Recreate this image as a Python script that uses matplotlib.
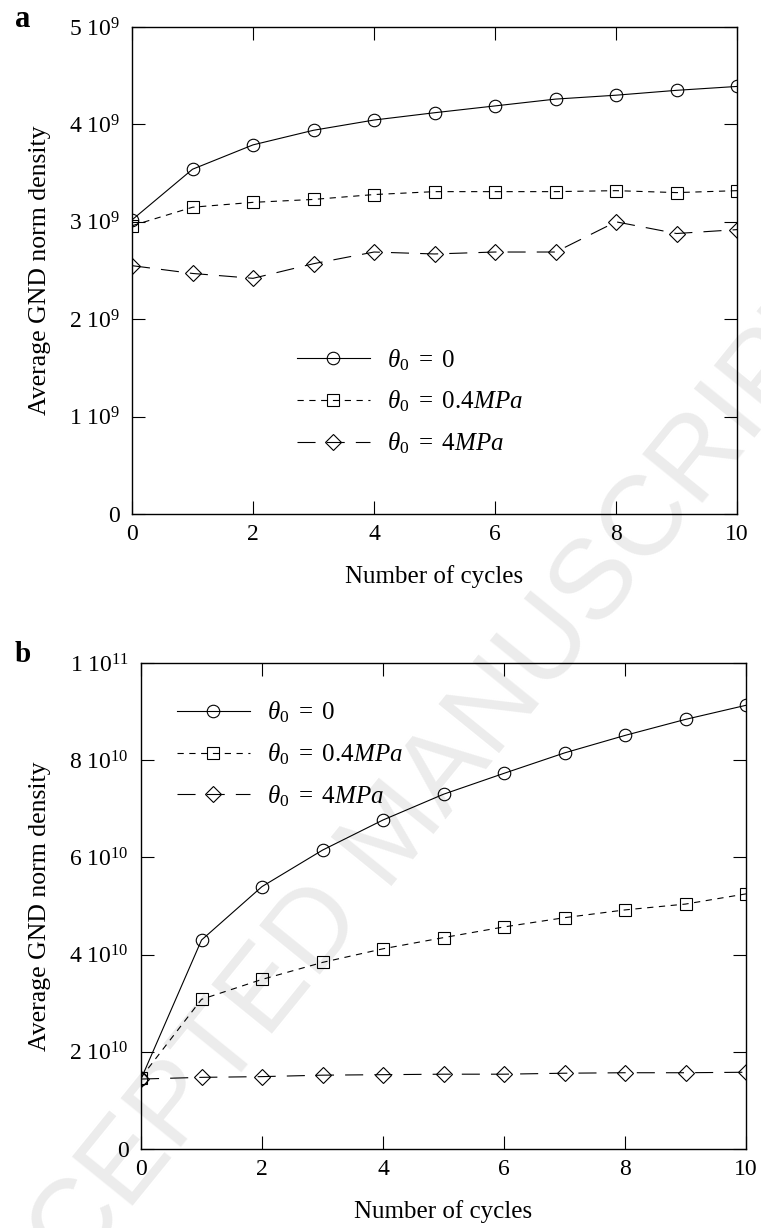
import matplotlib
matplotlib.use('Agg')
import matplotlib.pyplot as plt

plt.rcParams['font.family'] = ['Liberation Serif', 'DejaVu Serif']
plt.rcParams['mathtext.fontset'] = 'custom'
plt.rcParams['mathtext.rm'] = 'Liberation Serif'
plt.rcParams['mathtext.it'] = 'Liberation Serif:italic'
plt.rcParams['mathtext.bf'] = 'Liberation Serif:bold'
plt.rcParams['lines.scale_dashes'] = False

# cycles
cycles = [0, 1, 2, 3, 4, 5, 6, 7, 8, 9, 10]

# panel a, GND density (x 1e9)
a_theta0 = [3.02, 3.54, 3.79, 3.94, 4.045, 4.12, 4.19, 4.26, 4.30, 4.35, 4.39]
a_theta04 = [2.96, 3.15, 3.20, 3.23, 3.28, 3.31, 3.31, 3.31, 3.32, 3.30, 3.32]
a_theta4 = [2.55, 2.47, 2.42, 2.57, 2.69, 2.67, 2.69, 2.69, 3.00, 2.88, 2.92]

# panel b, GND density (x 1e10)
b_theta0 = [1.44, 4.30, 5.40, 6.15, 6.77, 7.30, 7.73, 8.15, 8.51, 8.84, 9.13]
b_theta04 = [1.47, 3.08, 3.49, 3.84, 4.12, 4.35, 4.57, 4.76, 4.92, 5.04, 5.25]
b_theta4 = [1.44, 1.475, 1.49, 1.52, 1.53, 1.54, 1.54, 1.56, 1.57, 1.57, 1.58]

labels = [r'$\theta_0\ =\ 0$', r'$\theta_0\ =\ 0.4MPa$', r'$\theta_0\ =\ 4MPa$']

a_yticks = [0, 1e9, 2e9, 3e9, 4e9, 5e9]
a_yticklabels = ['0', r'$1\ 10^{9}$', r'$2\ 10^{9}$', r'$3\ 10^{9}$', r'$4\ 10^{9}$', r'$5\ 10^{9}$']
b_yticks = [0, 2e10, 4e10, 6e10, 8e10, 1e11]
b_yticklabels = ['0', r'$2\ 10^{10}$', r'$4\ 10^{10}$', r'$6\ 10^{10}$', r'$8\ 10^{10}$', r'$1\ 10^{11}$']
xticks = [0, 2, 4, 6, 8, 10]

styles = [
    dict(marker='o', linestyle='-', ms=9),
    dict(marker='s', linestyle=(0, (4.5, 4.0)), ms=9),
    dict(marker='D', linestyle=(0, (13, 8)), ms=8),
]

fig = plt.figure(figsize=(7.61, 12.28), dpi=100)

# watermark behind the axes
fig.text(0.52, 0.32, 'ACCEPTED MANUSCRIPT', rotation=51, ha='center', va='center',
         fontsize=82, color='#ececec', family='Liberation Sans', zorder=-5)

ax_a = fig.add_axes([0.1735, 0.5814, 0.795, 0.3966])
ax_b = fig.add_axes([0.1853, 0.0643, 0.795, 0.3958])


def draw_panel(ax, series, scale, yticks, yticklabels, ymax, leg_anchor):
    ax.set_facecolor('none')
    for vals, st, lab in zip(series, styles, labels):
        ys = [v * scale for v in vals]
        ax.plot(cycles, ys, color='black', lw=0.8, mfc='none', mec='black', mew=0.8,
                label=lab, **st)
    ax.set_xlim(0, 10)
    ax.set_ylim(0, ymax)
    ax.set_xticks(xticks)
    ax.set_xticklabels([str(t) for t in xticks])
    ax.set_yticks(yticks)
    ax.set_yticklabels(yticklabels)
    ax.tick_params(direction='in', length=9.5, width=0.8, top=True, right=True,
                   labelsize=17)
    ax.tick_params(axis='x', pad=7)
    ax.tick_params(axis='y', pad=9)
    for sp in ax.spines.values():
        sp.set_linewidth(1.0)
    ax.set_xlabel('Number of cycles', fontsize=18)
    ax.set_ylabel('Average GND norm density', fontsize=18.5)
    ax.legend(loc='upper left', bbox_to_anchor=leg_anchor, frameon=False, fontsize=18,
              handlelength=2.9, handletextpad=0.7, labelspacing=0.65, borderpad=0,
              borderaxespad=0, numpoints=1)


draw_panel(ax_a, [a_theta0, a_theta04, a_theta4], 1e9, a_yticks, a_yticklabels, 5e9,
           (0.273, 0.343))
ax_a.yaxis.set_label_coords(-0.134, 0.5)
ax_a.xaxis.set_label_coords(0.5, -0.105)

draw_panel(ax_b, [b_theta0, b_theta04, b_theta4], 1e10, b_yticks, b_yticklabels, 1e11,
           (0.0595, 0.925))
ax_b.yaxis.set_label_coords(-0.149, 0.5)
ax_b.xaxis.set_label_coords(0.5, -0.105)

fig.text(0.0197, 0.978, 'a', fontsize=22, fontweight='bold')
fig.text(0.0197, 0.461, 'b', fontsize=21, fontweight='bold')

fig.savefig('out.png', dpi=100)
